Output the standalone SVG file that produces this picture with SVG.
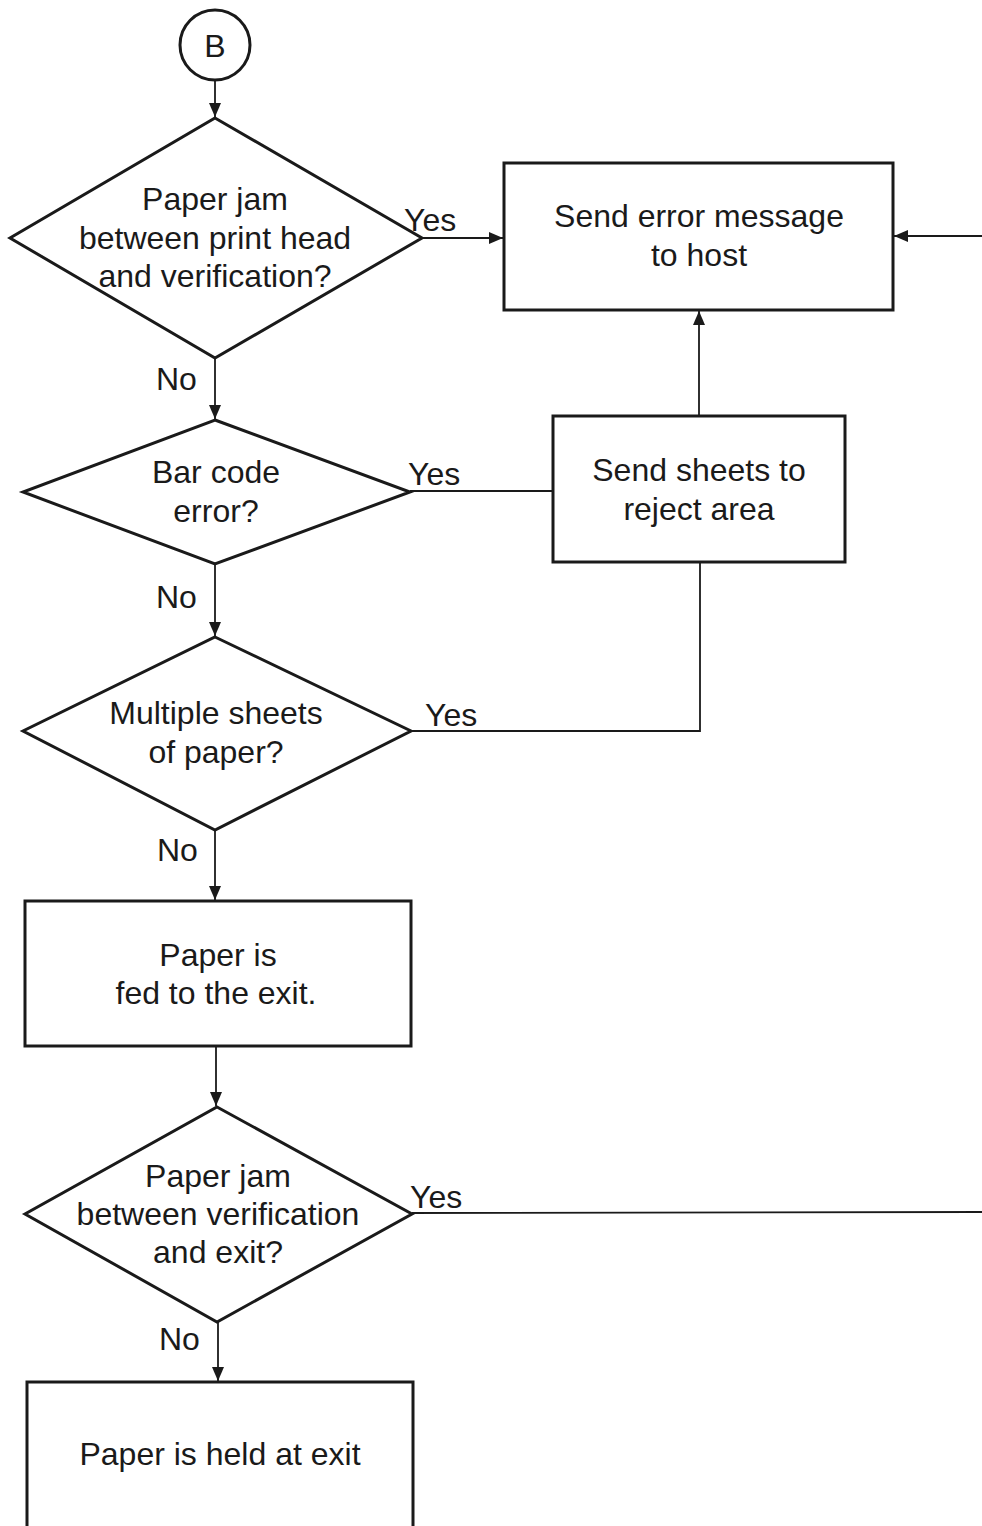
<svg xmlns="http://www.w3.org/2000/svg" width="982" height="1526" viewBox="0 0 982 1526">
<defs>
<marker id="ah" viewBox="0 0 14 12" refX="14" refY="6" markerWidth="14" markerHeight="12" markerUnits="userSpaceOnUse" orient="auto">
<path d="M0,0 L14,6 L0,12 Z" fill="#1a1a1a"/>
</marker>
<style>
.shape{fill:#fff;stroke:#1a1a1a;stroke-width:3}
.conn{fill:none;stroke:#1a1a1a;stroke-width:1.8}
text{font-family:"Liberation Sans",Arial,sans-serif;font-size:32px;fill:#1a1a1a;text-anchor:middle}
.lbl{text-anchor:start}
</style>
</defs>
<rect width="982" height="1526" fill="#fff"/>
<g id="connectors">
<line class="conn" x1="215" y1="80" x2="215" y2="117" marker-end="url(#ah)"/>
<line class="conn" x1="422" y1="238" x2="503" y2="238" marker-end="url(#ah)"/>
<line class="conn" x1="982" y1="236" x2="894" y2="236" marker-end="url(#ah)"/>
<line class="conn" x1="215" y1="358" x2="215" y2="419" marker-end="url(#ah)"/>
<line class="conn" x1="410" y1="491" x2="553" y2="491"/>
<line class="conn" x1="699" y1="416" x2="699" y2="311" marker-end="url(#ah)"/>
<line class="conn" x1="215" y1="564" x2="215" y2="636" marker-end="url(#ah)"/>
<polyline class="conn" points="411,731 700,731 700,562"/>
<line class="conn" x1="215" y1="830" x2="215" y2="900" marker-end="url(#ah)"/>
<line class="conn" x1="216" y1="1046" x2="216" y2="1106" marker-end="url(#ah)"/>
<line class="conn" x1="412" y1="1213" x2="982" y2="1212"/>
<line class="conn" x1="218" y1="1322" x2="218" y2="1381" marker-end="url(#ah)"/>
<text class="lbl" x="404" y="231">Yes</text>
<text class="lbl" x="408" y="485">Yes</text>
<text class="lbl" x="425" y="726">Yes</text>
<text class="lbl" x="410" y="1208">Yes</text>
<text class="lbl" x="156" y="390">No</text>
<text class="lbl" x="156" y="608">No</text>
<text class="lbl" x="157" y="861">No</text>
<text class="lbl" x="159" y="1350">No</text>
</g>
<g id="start">
<circle class="shape" cx="215" cy="45" r="35"/>
<text x="215" y="57">B</text>
</g>
<g id="d1">
<polygon class="shape" points="215,118 422,238 215,358 10,238"/>
<text x="215" y="210">Paper jam</text>
<text x="215" y="249">between print head</text>
<text x="215" y="287">and verification?</text>
</g>
<g id="error">
<rect class="shape" x="504" y="163" width="389" height="147"/>
<text x="699" y="227">Send error message</text>
<text x="699" y="266">to host</text>
</g>
<g id="d2">
<polygon class="shape" points="215,420 410,492 215,564 23,492"/>
<text x="216" y="483">Bar code</text>
<text x="216" y="522">error?</text>
</g>
<g id="reject">
<rect class="shape" x="553" y="416" width="292" height="146"/>
<text x="699" y="481">Send sheets to</text>
<text x="699" y="520">reject area</text>
</g>
<g id="d3">
<polygon class="shape" points="215,637 411,731 215,830 23,731"/>
<text x="216" y="724">Multiple sheets</text>
<text x="216" y="763">of paper?</text>
</g>
<g id="fed">
<rect class="shape" x="25" y="901" width="386" height="145"/>
<text x="218" y="966">Paper is</text>
<text x="216" y="1004">fed to the exit.</text>
</g>
<g id="d4">
<polygon class="shape" points="217,1107 412,1214 217,1322 25,1214"/>
<text x="218" y="1187">Paper jam</text>
<text x="218" y="1225">between verification</text>
<text x="218" y="1263">and exit?</text>
</g>
<g id="held">
<rect class="shape" x="27" y="1382" width="386" height="160"/>
<text x="220" y="1465">Paper is held at exit</text>
</g>
</svg>
